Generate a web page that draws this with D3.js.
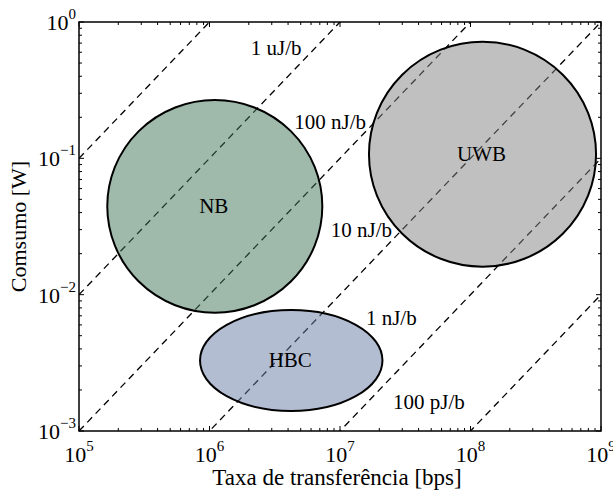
<!DOCTYPE html>
<html>
<head>
<meta charset="utf-8">
<script src="https://d3js.org/d3.v7.min.js"></script>
<style>
  html, body { margin: 0; padding: 0; background: #fff; }
  svg { display: block; }
  text { font-family: "Liberation Serif", "Times New Roman", serif; fill: #000; }
</style>
</head>
<body>
<svg id="chart" width="613" height="491"></svg>
<script>
(function () {
// ---- data ----
const xTickValues = [1e5, 1e6, 1e7, 1e8, 1e9];
const xTickExponents = ["5", "6", "7", "8", "9"];
const yTickValues = [1e-3, 1e-2, 1e-1, 1e0];
const yTickExponents = ["\u22123", "\u22122", "\u22121", "0"];

// energy-per-bit iso-lines (J/bit): P = E * R
const energyPerBit = [1e-6, 1e-7, 1e-8, 1e-9, 1e-10, 1e-11];

// annotations (text, rate, power at text baseline start)
const energyLabelText = ["1 uJ/b", "100 nJ/b", "10 nJ/b", "1 nJ/b", "100 pJ/b"];
const energyLabelRate = [2.07e6, 4.47e6, 8.49e6, 1.58e7, 2.55e7];
const energyLabelPower = [0.573, 0.164, 0.0266, 0.00598, 0.00145];

// technology regions: centre (rate, power) and half-widths in decades
const regionNames = ["NB", "UWB", "HBC"];
const regionRate = [1.098e6, 1.236e8, 4.23e6];
const regionPower = [0.04446, 0.1072, 0.00329];
const regionRxDecades = [0.824, 0.870, 0.699];
const regionRyDecades = [0.780, 0.825, 0.370];
const regionColors = ["#3f7557", "#818181", "#677ba5"];

// ---- layout ----
const svg = d3.select("#chart");
const mLeft = 79, mRight = 601, mTop = 22, mBottom = 431;

const x = d3.scaleLog().domain([1e5, 1e9]).range([mLeft, mRight]);
const y = d3.scaleLog().domain([1e-3, 1e0]).range([mBottom, mTop]);

svg.append("defs").append("clipPath").attr("id", "plotclip")
  .append("rect").attr("x", mLeft).attr("y", mTop)
  .attr("width", mRight - mLeft).attr("height", mBottom - mTop);

const plot = svg.append("g").attr("clip-path", "url(#plotclip)");

// iso-energy dashed lines
const lineGen = d3.line().x(d => x(d[0])).y(d => y(d[1]));
plot.selectAll("path.iso").data(energyPerBit).join("path")
  .attr("class", "iso")
  .attr("d", e => lineGen([[1e5, e * 1e5], [1e9, e * 1e9]]))
  .attr("fill", "none")
  .attr("stroke", "#000")
  .attr("stroke-width", 1.3)
  .attr("stroke-dasharray", "7,5");

// regions
const regions = regionNames.map((n, i) => ({
  name: n, rate: regionRate[i], power: regionPower[i],
  rx: regionRxDecades[i], ry: regionRyDecades[i], color: regionColors[i]
}));
plot.selectAll("ellipse.reg").data(regions).join("ellipse")
  .attr("class", "reg")
  .attr("cx", d => x(d.rate))
  .attr("cy", d => y(d.power))
  .attr("rx", d => x(d.rate * Math.pow(10, d.rx)) - x(d.rate))
  .attr("ry", d => y(d.power) - y(d.power * Math.pow(10, d.ry)))
  .attr("fill", d => d.color)
  .attr("fill-opacity", 0.5)
  .attr("stroke", "#000")
  .attr("stroke-width", 2);

svg.selectAll("text.regname").data(regions).join("text")
  .attr("class", "regname")
  .attr("x", d => x(d.rate) - 1)
  .attr("y", d => y(d.power) + 7)
  .attr("text-anchor", "middle")
  .attr("font-size", 21)
  .text(d => d.name);

// energy labels
svg.selectAll("text.elab").data(energyLabelText).join("text")
  .attr("class", "elab")
  .attr("x", (d, i) => x(energyLabelRate[i]))
  .attr("y", (d, i) => y(energyLabelPower[i]))
  .attr("font-size", 21)
  .text(d => d);

// ---- axes frame ----
const axes = svg.append("g");
axes.append("rect").attr("x", mLeft).attr("y", mTop)
  .attr("width", mRight - mLeft).attr("height", mBottom - mTop)
  .attr("fill", "none").attr("stroke", "#000").attr("stroke-width", 1.5);

function minorTicks(lo, hi) {
  const out = [];
  for (let p = Math.round(Math.log10(lo)); p < Math.round(Math.log10(hi)); p++) {
    for (let m = 2; m <= 9; m++) out.push(m * Math.pow(10, p));
  }
  return out;
}
const xMinor = minorTicks(1e5, 1e9);
const yMinor = minorTicks(1e-3, 1e0);
const majorLen = 5, minorLen = 3;

function tickSetX(vals, len, cls) {
  axes.selectAll("line.xb" + cls).data(vals).join("line")
    .attr("class", "xb" + cls)
    .attr("x1", d => x(d)).attr("x2", d => x(d))
    .attr("y1", mBottom).attr("y2", mBottom - len)
    .attr("stroke", "#000").attr("stroke-width", 1);
  axes.selectAll("line.xt" + cls).data(vals).join("line")
    .attr("class", "xt" + cls)
    .attr("x1", d => x(d)).attr("x2", d => x(d))
    .attr("y1", mTop).attr("y2", mTop + len)
    .attr("stroke", "#000").attr("stroke-width", 1);
}
function tickSetY(vals, len, cls) {
  axes.selectAll("line.yl" + cls).data(vals).join("line")
    .attr("class", "yl" + cls)
    .attr("x1", mLeft).attr("x2", mLeft + len)
    .attr("y1", d => y(d)).attr("y2", d => y(d))
    .attr("stroke", "#000").attr("stroke-width", 1);
  axes.selectAll("line.yr" + cls).data(vals).join("line")
    .attr("class", "yr" + cls)
    .attr("x1", mRight).attr("x2", mRight - len)
    .attr("y1", d => y(d)).attr("y2", d => y(d))
    .attr("stroke", "#000").attr("stroke-width", 1);
}
tickSetX(xTickValues, majorLen, "M");
tickSetX(xMinor, minorLen, "m");
tickSetY(yTickValues, majorLen, "M");
tickSetY(yMinor, minorLen, "m");

// tick labels
const xl = svg.selectAll("text.xtl").data(xTickValues).join("text")
  .attr("class", "xtl")
  .attr("x", d => x(d))
  .attr("y", mBottom + 31)
  .attr("text-anchor", "middle")
  .attr("font-size", 22);
xl.append("tspan").text("10");
xl.append("tspan").attr("font-size", 15).attr("dy", -11)
  .text((d, i) => xTickExponents[i]);

const yl = svg.selectAll("text.ytl").data(yTickValues).join("text")
  .attr("class", "ytl")
  .attr("x", mLeft - 3)
  .attr("y", d => y(d) + 8)
  .attr("text-anchor", "end")
  .attr("font-size", 22);
yl.append("tspan").text("10");
yl.append("tspan").attr("font-size", 15).attr("dy", -11)
  .text((d, i) => yTickExponents[i]);

// axis titles
svg.append("text")
  .attr("x", (mLeft + mRight) / 2 - 3)
  .attr("y", 485)
  .attr("text-anchor", "middle")
  .attr("font-size", 23)
  .text("Taxa de transferência [bps]");

svg.append("text")
  .attr("transform", `translate(26, ${(mTop + mBottom) / 2}) rotate(-90)`)
  .attr("text-anchor", "middle")
  .attr("font-size", 22)
  .text("Comsumo [W]");
})();
</script>
</body>
</html>
